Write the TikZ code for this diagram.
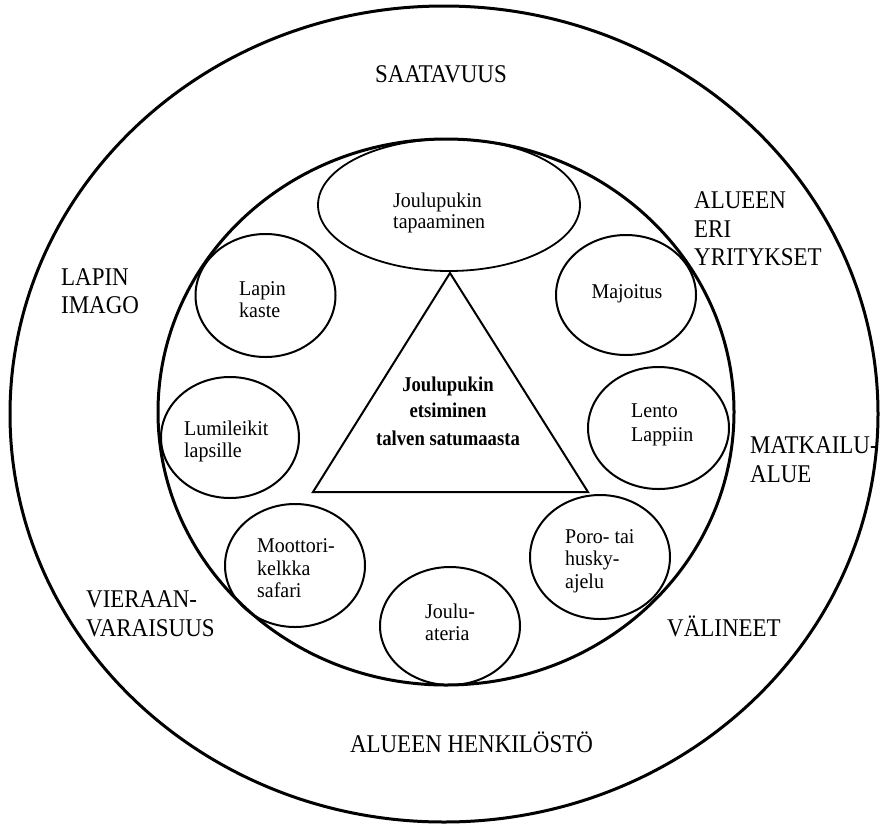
\documentclass[tikz,border=0pt]{standalone}
\usepackage{fontspec}
\setmainfont{Liberation Serif}
\newfontfamily\outfont[FakeStretch=0.9]{Liberation Serif}
\newfontfamily\infont[FakeStretch=0.95]{Liberation Serif}
\newfontfamily\trifont[FakeStretch=0.89]{Liberation Serif Bold}
\usetikzlibrary{shapes.geometric}
\tikzset{
  ring/.style={draw=black, line width=3pt},
  bubble/.style={draw=black, line width=2pt, ellipse, inner sep=0pt},
  outerlbl/.style={inner sep=0pt, font=\outfont\fontsize{25.5}{28}\selectfont},
  innerlbl/.style={inner sep=0pt, font=\infont\fontsize{21}{22}\selectfont},
  trilbl/.style={inner sep=0pt, font=\trifont\fontsize{21}{26}\selectfont},
}
\begin{document}
\begin{tikzpicture}[x=1pt,y=-1pt]
\useasboundingbox (0,0) rectangle (891,828);
% outer and inner rings
\draw[ring] (444,414) ellipse [x radius=434, y radius=408];
\draw[ring] (446,412) ellipse [x radius=288, y radius=273];
% bubbles
\node[bubble, minimum width=262pt, minimum height=132pt, line width=1.8pt] (meet) at (449,205) {};
\node[bubble, minimum width=140pt, minimum height=123pt] (kaste) at (265.5,295.5) {};
\node[bubble, minimum width=140pt, minimum height=120pt] (majoitus) at (626,295) {};
\node[bubble, minimum width=138pt, minimum height=121pt] (lumi) at (230,437.5) {};
\node[bubble, minimum width=141pt, minimum height=122pt] (lento) at (658.5,428) {};
\node[bubble, minimum width=140pt, minimum height=123pt] (kelkka) at (295,565.5) {};
\node[bubble, minimum width=140pt, minimum height=124pt] (poro) at (600,557) {};
\node[bubble, minimum width=140pt, minimum height=118pt] (ateria) at (450,626) {};
% triangle
\coordinate (tA) at (450,273);
\coordinate (tB) at (313,492);
\coordinate (tC) at (588,492);
\draw[line width=2pt, line join=miter] (tA) -- (tB) -- (tC) -- cycle;
% outer labels
\node[outerlbl, anchor=base] (saat) at (441,82) {SAATAVUUS};
\node[outerlbl, anchor=base west] (yr1) at (694,208) {ALUEEN};
\node[outerlbl, anchor=base west] (yr2) at (694,237) {ERI};
\node[outerlbl, anchor=base west] (yr3) at (694,265) {YRITYKSET};
\node[outerlbl, anchor=base west] (im1) at (61,285) {LAPIN};
\node[outerlbl, anchor=base west] (im2) at (61,313) {IMAGO};
\node[outerlbl, anchor=base west] (ma1) at (750,453) {MATKAILU-};
\node[outerlbl, anchor=base west] (ma2) at (750,482) {ALUE};
\node[outerlbl, anchor=base west] (vi1) at (86,607) {VIERAAN-};
\node[outerlbl, anchor=base west] (vi2) at (86,636) {VARAISUUS};
\node[outerlbl, anchor=base west] (val) at (667,636) {VÄLINEET};
\node[outerlbl, anchor=base] (henk) at (471.5,752) {ALUEEN HENKILÖSTÖ};
% inner labels
\node[innerlbl, anchor=base west] (meet1) at (393,207) {Joulupukin};
\node[innerlbl, anchor=base west] (meet2) at (393,228) {tapaaminen};
\node[innerlbl, anchor=base west] (kaste1) at (239,295) {Lapin};
\node[innerlbl, anchor=base west] (kaste2) at (239,317) {kaste};
\node[innerlbl, anchor=base] (maj1) at (627,298) {Majoitus};
\node[innerlbl, anchor=base west] (lumi1) at (184,435) {Lumileikit};
\node[innerlbl, anchor=base west] (lumi2) at (184,457) {lapsille};
\node[innerlbl, anchor=base west] (lento1) at (631,417) {Lento};
\node[innerlbl, anchor=base west] (lento2) at (631,441) {Lappiin};
\node[innerlbl, anchor=base west] (kel1) at (257,552) {Moottori-};
\node[innerlbl, anchor=base west] (kel2) at (257,575) {kelkka};
\node[innerlbl, anchor=base west] (kel3) at (257,597) {safari};
\node[innerlbl, anchor=base west] (poro1) at (565,543) {Poro- tai};
\node[innerlbl, anchor=base west] (poro2) at (565,565) {husky-};
\node[innerlbl, anchor=base west] (poro3) at (565,588) {ajelu};
\node[innerlbl, anchor=base west] (at1) at (425,618) {Joulu-};
\node[innerlbl, anchor=base west] (at2) at (425,640) {ateria};
% triangle labels
\node[trilbl, anchor=base] (tri1) at (448,391) {Joulupukin};
\node[trilbl, anchor=base] (tri2) at (448,417) {etsiminen};
\node[trilbl, anchor=base] (tri3) at (448,445) {talven satumaasta};
\end{tikzpicture}
\end{document}
